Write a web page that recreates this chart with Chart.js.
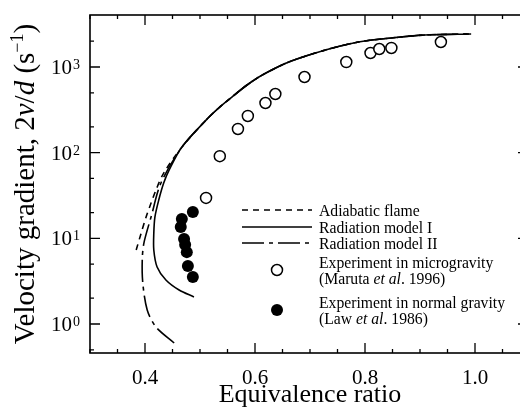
<!DOCTYPE html>
<html>
<head>
<meta charset="utf-8">
<script src="https://cdn.jsdelivr.net/npm/chart.js@4.4.1/dist/chart.umd.min.js"></script>
<style>
  html, body { margin: 0; padding: 0; background: #fff; overflow: hidden; }
  #wrap { width: 540px; height: 408px; }
</style>
</head>
<body>
<div id="wrap"><canvas id="chart" width="540" height="408"></canvas></div>
<script>
// axis ranges (the right edge of the original frame is cropped off)
const xMin = 0.3, xMax = 1.1;
const yMin = 0.4585, yMax = 4045;

const xTickValues = [0.3, 0.35, 0.4, 0.45, 0.5, 0.55, 0.6, 0.65, 0.7, 0.75, 0.8, 0.85, 0.9, 0.95, 1.0, 1.05, 1.1];
const xMajorTicks = [0.4, 0.6, 0.8, 1.0];
const yMajorTicks = [1, 10, 100, 1000];
const yTickExponents = ['0', '1', '2', '3'];
const yMinorTicks = [0.5, 2, 5, 20, 50, 200, 500, 2000];

// shared upper branch of all three model curves
const phiUpper = [0.467, 0.511, 0.534, 0.558, 0.583, 0.607, 0.634, 0.666, 0.728, 0.788, 0.848, 0.909, 0.993];
const gradUpper = [116, 240, 332, 446, 600, 764, 948, 1175, 1579, 1958, 2180, 2362, 2427];

// Adiabatic flame (dashed), lower branch
const phiAdiabatic = [0.384, 0.393, 0.402, 0.411, 0.420, 0.434];
const gradAdiabatic = [7.3, 11.5, 17.7, 25.8, 36.7, 57.8];

// Radiation model I (solid), lower branch
const phiModelI = [0.489, 0.462, 0.438, 0.422, 0.416, 0.416, 0.418, 0.425, 0.434, 0.444];
const gradModelI = [2.07, 2.49, 3.26, 4.63, 7.31, 11.5, 17.7, 28.0, 44.2, 62.8];

// Radiation model II (long dash - short dash), lower branch
const phiModelII = [0.453, 0.420, 0.404, 0.396, 0.395, 0.398, 0.411, 0.429];
const gradModelII = [0.60, 0.92, 1.46, 3.0, 5.6, 8.8, 17.7, 44.2];

// Experiment in microgravity (Maruta et al. 1996)
const phiMicro = [0.511, 0.536, 0.569, 0.587, 0.619, 0.637, 0.690, 0.766, 0.810, 0.826, 0.848, 0.938];
const gradMicro = [29.6, 91, 189, 268, 380, 484, 764, 1143, 1456, 1622, 1667, 1958];

// Experiment in normal gravity (Law et al. 1986)
const phiNormal = [0.487, 0.467, 0.465, 0.471, 0.473, 0.476, 0.478, 0.487];
const gradNormal = [20.3, 16.8, 13.6, 9.8, 8.4, 6.9, 4.75, 3.54];

const SERIF = "'Liberation Serif', 'DejaVu Serif', serif";
const dashAdiabatic = [6, 5];
const dashModelII = [22, 5, 4, 5];

const toPoints = (xs, ys) => xs.map((v, i) => ({ x: v, y: ys[i] }));

// draw a run of text pieces with mixed fonts, starting at / centred on (x, y)
const drawRich = (ctx, parts, x, y, align) => {
    let total = 0;
    parts.forEach(p => { ctx.font = p.font; total += ctx.measureText(p.text).width; });
    let cx = align === 'left' ? x : x - total / 2;
    ctx.textAlign = 'left';
    ctx.textBaseline = 'alphabetic';
    parts.forEach(p => {
        ctx.font = p.font;
        ctx.fillText(p.text, cx, y + (p.dy || 0));
        cx += ctx.measureText(p.text).width;
    });
};

const framePlugin = {
    id: 'frame',
    afterDatasetsDraw(chart) {
        const { ctx, chartArea: a, scales: { x, y } } = chart;
        ctx.save();
        ctx.strokeStyle = '#000';
        ctx.lineWidth = 1.6;
        ctx.strokeRect(a.left, a.top, a.right - a.left, a.bottom - a.top);

        ctx.lineWidth = 1.3;
        ctx.beginPath();
        x.ticks.forEach(t => {
            const px = x.getPixelForValue(t.value);
            const len = xMajorTicks.includes(t.value) ? 10 : 4;
            ctx.moveTo(px, a.bottom); ctx.lineTo(px, a.bottom - len);
            ctx.moveTo(px, a.top); ctx.lineTo(px, a.top + len);
        });
        const yTick = (v, len) => {
            const py = y.getPixelForValue(v);
            ctx.moveTo(a.left, py); ctx.lineTo(a.left + len, py);
            ctx.moveTo(a.right, py); ctx.lineTo(a.right - len - 2, py);
        };
        yMajorTicks.forEach(v => yTick(v, 10));
        yMinorTicks.forEach(v => yTick(v, 4));
        ctx.stroke();

        // y tick labels: 10 with superscript exponent
        ctx.fillStyle = '#000';
        yMajorTicks.forEach((v, i) => {
            const py = y.getPixelForValue(v);
            ctx.font = '21px ' + SERIF;
            ctx.textAlign = 'right';
            ctx.textBaseline = 'alphabetic';
            ctx.fillText('10', 72, py + 7);
            ctx.font = '14px ' + SERIF;
            ctx.textAlign = 'left';
            ctx.fillText(yTickExponents[i], 73, py + 2);
        });

        // y axis title
        ctx.save();
        ctx.translate(34, (a.top + a.bottom) / 2);
        ctx.rotate(-Math.PI / 2);
        const f = '29px ' + SERIF, fi = 'italic 29px ' + SERIF, fs = '18px ' + SERIF;
        drawRich(ctx, [
            { text: 'Velocity gradient, 2', font: f },
            { text: 'v', font: fi },
            { text: '/', font: f },
            { text: 'd', font: fi },
            { text: ' (s', font: f },
            { text: '\u22121', font: fs, dy: -11 },
            { text: ')', font: f }
        ], 0, 0, 'center');
        ctx.restore();
        ctx.restore();
    }
};

const legendPlugin = {
    id: 'insideLegend',
    afterDraw(chart) {
        const { ctx } = chart;
        const x0 = 242, x1 = 312, tx = 319;
        const f = '15.7px ' + SERIF, fi = 'italic 15.7px ' + SERIF;
        ctx.save();
        ctx.strokeStyle = '#000';
        ctx.fillStyle = '#000';
        ctx.lineWidth = 1.5;
        const line = (yy, dash) => {
            ctx.setLineDash(dash);
            ctx.beginPath(); ctx.moveTo(x0, yy); ctx.lineTo(x1, yy); ctx.stroke();
        };
        line(210, dashAdiabatic);
        line(227, []);
        line(243, dashModelII);
        ctx.setLineDash([]);

        ctx.beginPath(); ctx.arc(277, 270, 5.5, 0, Math.PI * 2);
        ctx.fillStyle = '#fff'; ctx.fill(); ctx.stroke();
        ctx.fillStyle = '#000';
        ctx.beginPath(); ctx.arc(277, 310, 6, 0, Math.PI * 2); ctx.fill();

        const b = 6;
        drawRich(ctx, [{ text: 'Adiabatic flame', font: f }], tx, 210 + b, 'left');
        drawRich(ctx, [{ text: 'Radiation model I', font: f }], tx, 227 + b, 'left');
        drawRich(ctx, [{ text: 'Radiation model II', font: f }], tx, 243 + b, 'left');
        drawRich(ctx, [{ text: 'Experiment in microgravity', font: f }], tx, 262 + b, 'left');
        drawRich(ctx, [{ text: '(Maruta ', font: f }, { text: 'et al', font: fi }, { text: '. 1996)', font: f }], tx, 278 + b, 'left');
        drawRich(ctx, [{ text: 'Experiment in normal gravity', font: f }], tx, 302 + b, 'left');
        drawRich(ctx, [{ text: '(Law ', font: f }, { text: 'et al', font: fi }, { text: '. 1986)', font: f }], tx, 318 + b, 'left');
        ctx.restore();
    }
};

const curve = (label, xs, ys, dash) => ({
    label,
    data: toPoints(xs.concat(phiUpper), ys.concat(gradUpper)),
    showLine: true,
    borderColor: '#000',
    borderWidth: 1.6,
    borderDash: dash,
    pointRadius: 0,
    tension: 0.3,
    fill: false
});

new Chart(document.getElementById('chart'), {
    type: 'scatter',
    data: {
        datasets: [
            {
                label: 'Experiment in normal gravity (Law et al. 1986)',
                data: toPoints(phiNormal, gradNormal),
                pointRadius: 6,
                pointBackgroundColor: '#000',
                pointBorderColor: '#000',
                pointBorderWidth: 0
            },
            {
                label: 'Experiment in microgravity (Maruta et al. 1996)',
                data: toPoints(phiMicro, gradMicro),
                pointRadius: 5.5,
                pointBackgroundColor: '#fff',
                pointBorderColor: '#000',
                pointBorderWidth: 1.5
            },
            curve('Radiation model I', phiModelI, gradModelI, []),
            curve('Radiation model II', phiModelII, gradModelII, dashModelII),
            curve('Adiabatic flame', phiAdiabatic, gradAdiabatic, dashAdiabatic)
        ]
    },
    options: {
        responsive: false,
        animation: false,
        devicePixelRatio: 1,
        layout: { padding: { left: 90, top: 15, right: 10, bottom: 0 } },
        plugins: { legend: { display: false }, tooltip: { enabled: false } },
        scales: {
            x: {
                type: 'linear',
                min: xMin,
                max: xMax,
                afterBuildTicks: (scale) => { scale.ticks = xTickValues.map(v => ({ value: v })); },
                afterFit: (scale) => { scale.height = 55; },
                grid: { display: false },
                border: { display: false },
                ticks: {
                    autoSkip: false,
                    maxRotation: 0,
                    padding: 7,
                    color: '#000',
                    font: { family: SERIF, size: 21, lineHeight: 1 },
                    callback: (v) => xMajorTicks.includes(v) ? v.toFixed(1) : ''
                },
                title: {
                    display: true,
                    text: 'Equivalence ratio',
                    color: '#000',
                    font: { family: SERIF, size: 26, lineHeight: 1 },
                    padding: { top: 0, bottom: 0 }
                }
            },
            y: {
                type: 'logarithmic',
                min: yMin,
                max: yMax,
                display: false
            }
        }
    },
    plugins: [framePlugin, legendPlugin]
});
</script>
</body>
</html>
